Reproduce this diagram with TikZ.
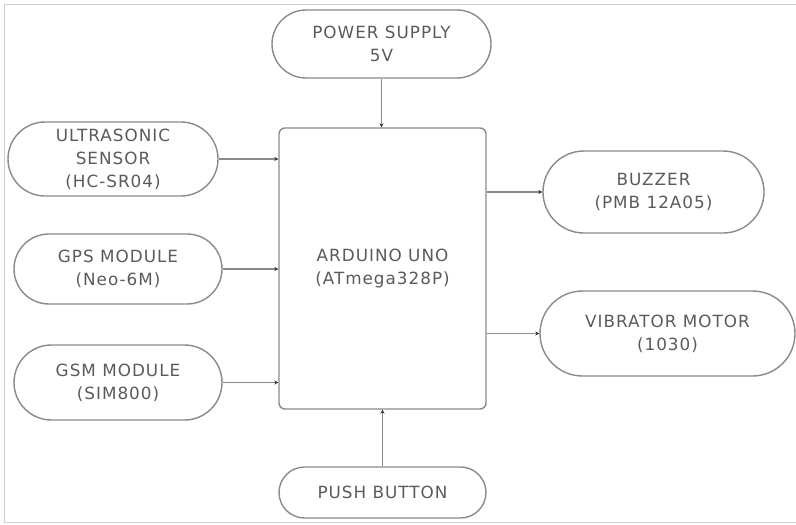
\documentclass[tikz,border=0pt]{standalone}
\usepackage{fontspec}
\setmainfont{DejaVu Sans}[LetterSpace=6]
\usetikzlibrary{shapes.misc,arrows.meta}
\definecolor{txt}{HTML}{5A5A5A}
\definecolor{ln}{HTML}{8A8A8A}
\definecolor{frame}{HTML}{D0D0D0}
\tikzset{
  pill/.style={rounded rectangle, draw=ln, line width=1.4pt, text=txt, align=center,
    font=\fontsize{16.8}{23}\selectfont, inner sep=0pt},
  mcu/.style={rectangle, rounded corners=6pt, draw=ln, line width=1.4pt, text=txt, align=center,
    font=\fontsize{16.8}{23}\selectfont, inner sep=0pt},
  arr/.style={draw=ln, line width=1.4pt, -{Stealth[length=4pt,width=4pt,color=black!80]}}
}
\begin{document}
\begin{tikzpicture}[x=1pt,y=-1pt]
\useasboundingbox (0,0) rectangle (796,525);
\draw[frame, line width=1pt] (796,4) -- (4,4) -- (4,522) -- (796,522);
\node[pill, minimum width=219pt, minimum height=68pt] (power) at (381.5,44) {POWER SUPPLY\\5V};
\node[pill, minimum width=210pt, minimum height=74pt] (ultra) at (113,159) {ULTRASONIC\\SENSOR\\(HC-SR04)};
\node[pill, minimum width=208pt, minimum height=70pt] (gps) at (118,269) {GPS MODULE\\(Neo-6M)};
\node[pill, minimum width=208pt, minimum height=75pt] (gsm) at (118,382.5) {GSM MODULE\\(SIM800)};
\node[mcu, minimum width=207pt, minimum height=281pt] (ard) at (382.5,268.5) {ARDUINO UNO\\(ATmega328P)};
\node[pill, minimum width=207pt, minimum height=51pt] (push) at (382.5,492.5) {PUSH BUTTON};
\node[pill, minimum width=221pt, minimum height=82pt] (buzz) at (653.5,192) {BUZZER\\(PMB 12A05)};
\node[pill, minimum width=255pt, minimum height=85pt] (vib) at (667.5,333.5) {VIBRATOR MOTOR\\(1030)};
\draw[arr] (power.south) -- (power.south |- ard.north);
\draw[arr] (ultra.east) -- (ultra.east -| ard.west);
\draw[arr] (gps.east) -- (gps.east -| ard.west);
\draw[arr] (gsm.east) -- (gsm.east -| ard.west);
\draw[arr] (push.north) -- (push.north |- ard.south);
\draw[arr] (ard.east |- buzz.west) -- (buzz.west);
\draw[arr] (ard.east |- vib.west) -- (vib.west);
\end{tikzpicture}
\end{document}
